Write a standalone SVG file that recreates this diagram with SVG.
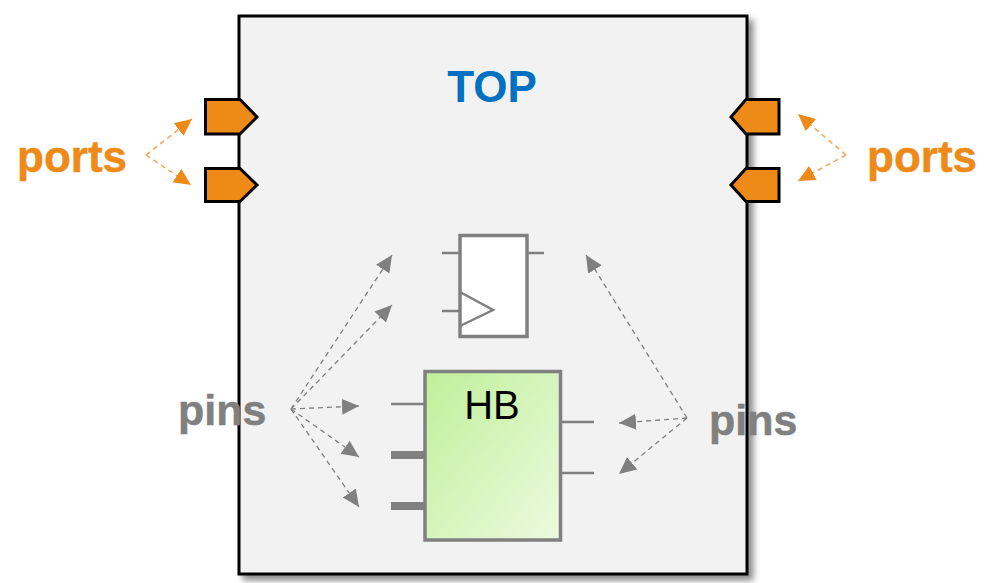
<svg xmlns="http://www.w3.org/2000/svg" width="1000" height="583" viewBox="0 0 1000 583">
<style>
.lbl{font-family:"Liberation Sans",Arial,sans-serif;font-weight:700;font-size:44px;stroke-width:.5}
.or{fill:#ee8a18;stroke:#ee8a18}.gr{fill:#808080;stroke:#808080;font-size:43px}
.port{fill:#ee8a18;stroke:#000;stroke-width:3;stroke-linejoin:miter}
.pin{stroke:#808080;stroke-width:2.5;fill:none}
.bus{stroke:#808080;stroke-width:8;fill:none}
.body{stroke:#808080;stroke-width:3.5}
.cg{fill:none;stroke:#808080;stroke-width:1.3;stroke-dasharray:5 4}
.co{fill:none;stroke:#f2a555;stroke-width:1.5;stroke-dasharray:5 4}
</style>
<defs>
<marker id="ag" markerUnits="userSpaceOnUse" markerWidth="18" markerHeight="18" refX="17" refY="9" orient="auto"><path d="M0 1L17 9L0 17Z" fill="#808080"/></marker>
<marker id="ao" markerUnits="userSpaceOnUse" markerWidth="18" markerHeight="18" refX="17" refY="9" orient="auto"><path d="M0 1L17 9L0 17Z" fill="#ee8a18"/></marker>
<linearGradient id="hb" x1="0" y1="0" x2="1" y2="1"><stop offset="0" stop-color="#bff09a"/><stop offset="1" stop-color="#ecfadf"/></linearGradient>
<filter id="sh" x="-5%" y="-5%" width="110%" height="110%"><feDropShadow dx="5" dy="5" stdDeviation="3" flood-color="#000" flood-opacity=".45"/></filter>
</defs>
<g id="top"><rect x="239" y="16" width="508" height="558" fill="#f2f2f2" stroke="#000" stroke-width="3" filter="url(#sh)"/>
<text x="492" y="102" text-anchor="middle" font-family="'Liberation Sans',Arial,sans-serif" font-weight="700" font-size="44" fill="#0070c0">TOP</text></g>
<g id="port-l1"><path class="port" d="M205.500 99.500H240L257 117L240 134H205.500Z"/></g>
<g id="port-l2"><path class="port" d="M205.500 168.500H240L257 185L240 201.500H205.500Z"/></g>
<g id="port-r1"><path class="port" d="M779 99.500H746L731 117L746 134H779Z"/></g>
<g id="port-r2"><path class="port" d="M779 168.500H746L731 185L746 201.500H779Z"/></g>
<g id="flipflop">
<path class="pin" d="M442 253H460M527 253H544M442 311H460"/>
<rect class="body" x="460" y="235.500" width="67" height="101" fill="#fff"/>
<path class="pin" stroke-width="3" d="M460 292L493 310L460 326"/>
</g>
<g id="hb-block">
<path class="pin" d="M391 404H425M561 422H594M561 473H594"/>
<path class="bus" d="M391 455H425M391 506H425"/>
<rect class="body" x="425" y="371.500" width="135.500" height="168.500" fill="url(#hb)"/>
<text x="492" y="419" text-anchor="middle" font-family="'Liberation Sans',Arial,sans-serif" font-size="40" fill="#000">HB</text>
</g>
<g id="connectors">
<path class="co" marker-end="url(#ao)" d="M146 155L192 119"/>
<path class="co" marker-end="url(#ao)" d="M146 155L191 185"/>
<path class="co" marker-end="url(#ao)" d="M846 155L798 114"/>
<path class="co" marker-end="url(#ao)" d="M846 155L798 181"/>
<path class="cg" marker-end="url(#ag)" d="M291 409L392 255"/>
<path class="cg" marker-end="url(#ag)" d="M291 409L392 305"/>
<path class="cg" marker-end="url(#ag)" d="M291 409L359 406"/>
<path class="cg" marker-end="url(#ag)" d="M291 409L359 457"/>
<path class="cg" marker-end="url(#ag)" d="M291 409L359 507"/>
<path class="cg" marker-end="url(#ag)" d="M687 418L586 255"/>
<path class="cg" marker-end="url(#ag)" d="M687 418L619 423"/>
<path class="cg" marker-end="url(#ag)" d="M687 418L619 474"/>
</g>
<g id="label-ports-l"><text class="lbl or" x="17" y="172">ports</text></g>
<g id="label-ports-r"><text class="lbl or" x="867" y="172">ports</text></g>
<g id="label-pins-l"><text class="lbl gr" x="178" y="425">pins</text></g>
<g id="label-pins-r"><text class="lbl gr" x="709" y="435">pins</text></g>
</svg>
